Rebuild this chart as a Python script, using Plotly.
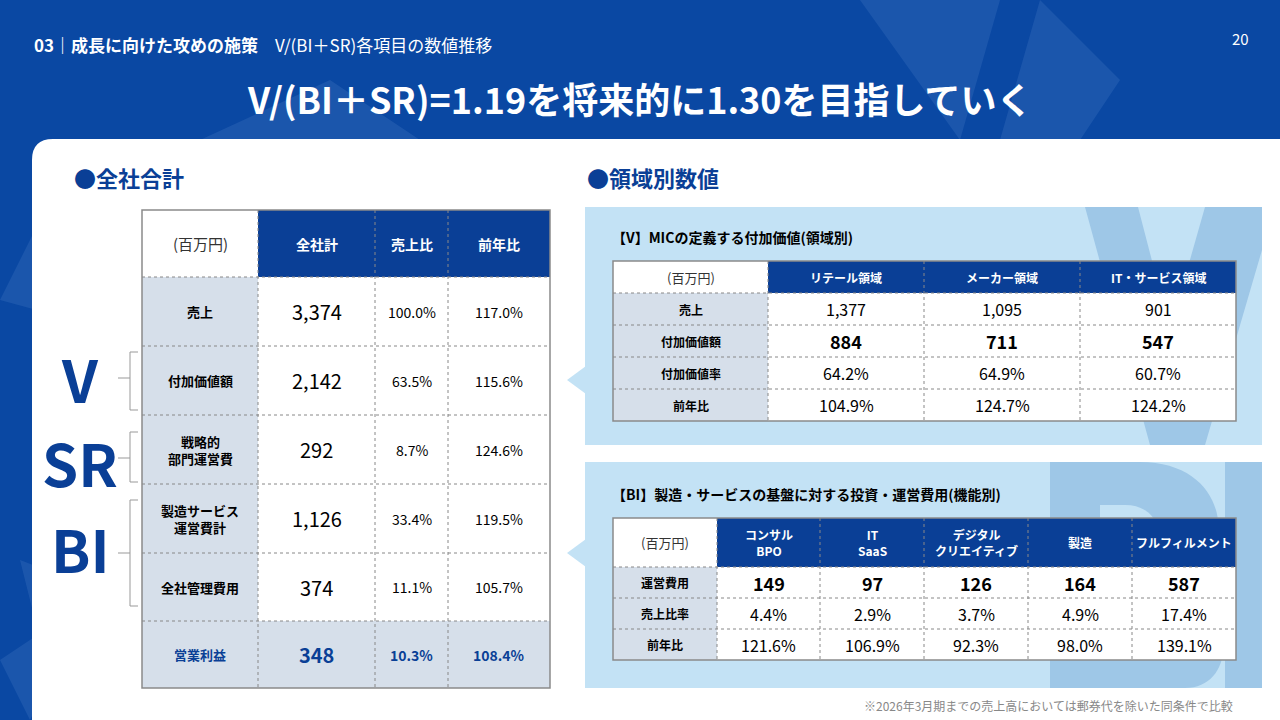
import plotly.graph_objects as go

FONT = "Noto Sans CJK JP"
NAVY = "#0a3f96"
LABEL_BG = "#d6dfea"
PANEL = "#c3e2f5"
MARK = "#9ec7e7"

# ---- data ----
total_cols = ["(百万円)", "全社計", "売上比", "前年比"]
total_rows = ["売上", "付加価値額", "戦略的<br>部門運営費", "製造サービス<br>運営費計", "全社管理費用", "営業利益"]
total_values = ["3,374", "2,142", "292", "1,126", "374", "348"]
total_ratio = ["100.0%", "63.5%", "8.7%", "33.4%", "11.1%", "10.3%"]
total_yoy = ["117.0%", "115.6%", "124.6%", "119.5%", "105.7%", "108.4%"]

v_cols = ["(百万円)", "リテール領域", "メーカー領域", "IT・サービス領域"]
v_rows = ["売上", "付加価値額", "付加価値率", "前年比"]
v_sales = ["1,377", "1,095", "901"]
v_value = ["884", "711", "547"]
v_rate = ["64.2%", "64.9%", "60.7%"]
v_yoy = ["104.9%", "124.7%", "124.2%"]

bi_cols = ["(百万円)", "コンサル<br>BPO", "IT<br>SaaS", "デジタル<br>クリエイティブ", "製造", "フルフィルメント"]
bi_rows = ["運営費用", "売上比率", "前年比"]
bi_cost = ["149", "97", "126", "164", "587"]
bi_ratio = ["4.4%", "2.9%", "3.7%", "4.9%", "17.4%"]
bi_yoy = ["121.6%", "106.9%", "92.3%", "98.0%", "139.1%"]

shapes = []
ann = []


def rect(x0, y0, x1, y1, color, layer="above", line=None):
    shapes.append(dict(type="rect", x0=x0, y0=y0, x1=x1, y1=y1, fillcolor=color, layer=layer,
                       line=line or dict(width=0)))


def text(x, y, s, size=14, color="black", bold=False, anchor="center"):
    ann.append(dict(x=x, y=y, text=f"<b>{s}</b>" if bold else s, showarrow=False, xanchor=anchor,
                    yanchor="middle", font=dict(family=FONT, size=size, color=color)))


def table(xs, ys, cols, rows, body, hsize, lsize, styles, last_row_blue=False):
    # header
    rect(xs[0], ys[0], xs[1], ys[1], "white")
    rect(xs[1], ys[0], xs[-1], ys[1], NAVY)
    for j, c in enumerate(cols):
        cx = (xs[j] + xs[j + 1]) / 2
        cy = (ys[0] + ys[1]) / 2
        if j == 0:
            text(cx, cy, c, hsize + 1, "#333")
        else:
            text(cx, cy, c, hsize, "white", True)
    for i, r in enumerate(rows):
        y0, y1 = ys[i + 1], ys[i + 2]
        cy = (y0 + y1) / 2
        blue = last_row_blue and i == len(rows) - 1
        rect(xs[0], y0, xs[1], y1, LABEL_BG)
        rect(xs[1], y0, xs[-1], y1, LABEL_BG if blue else "white")
        text((xs[0] + xs[1]) / 2, cy, r, lsize, NAVY if blue else "black", True)
        size, bold = styles[i]
        for j, v in enumerate(body[i]):
            cx = (xs[j + 1] + xs[j + 2]) / 2
            s = size[j] if isinstance(size, list) else size
            text(cx, cy, v, s, NAVY if blue else "black", bold or blue)
    dot = dict(color="#888", width=1, dash="dot")
    for x in xs[1:-1]:
        shapes.append(dict(type="line", x0=x, x1=x, y0=ys[0], y1=ys[-1], line=dot, layer="above"))
    for y in ys[1:-1]:
        shapes.append(dict(type="line", x0=xs[0], x1=xs[-1], y0=y, y1=y, line=dot, layer="above"))
    shapes.append(dict(type="rect", x0=xs[0], x1=xs[-1], y0=ys[0], y1=ys[-1],
                       line=dict(color="#8a8a8a", width=1.5), layer="above"))


# ---- background ----
for path in ["M 60 720 L 20 560 L 150 610 Z", "M 0 300 L 50 200 L 110 330 Z",
             "M 860 0 L 1000 0 L 960 140 Z", "M 1040 0 L 1120 80 L 1080 140 L 1000 140 Z",
             "M 200 140 L 330 80 L 420 140 Z", "M 0 660 L 90 600 L 30 720 Z"]:
    shapes.append(dict(type="path", path=path, fillcolor="#2a62b4", line=dict(width=0), layer="below", opacity=0.55))
shapes.append(dict(type="path", layer="below", fillcolor="white", line=dict(width=0),
                   path="M 32 720 L 32 160 Q 32 139 53 139 L 1280 139 L 1280 720 Z"))

# panels with pointers
rect(585, 207, 1262, 445, PANEL, "below")
rect(585, 462, 1262, 688, PANEL, "below")
shapes.append(dict(type="path", path="M 586 366 L 567 380 L 586 394 Z", fillcolor=PANEL, line=dict(width=0), layer="below"))
shapes.append(dict(type="path", path="M 586 539 L 567 553 L 586 567 Z", fillcolor=PANEL, line=dict(width=0), layer="below"))
# watermark letters
shapes.append(dict(type="path", layer="below", fillcolor=MARK, line=dict(width=0),
                   path="M 1085 207 L 1138 207 L 1170 330 L 1205 207 L 1262 207 L 1262 250 L 1205 445 L 1150 445 Z"))
shapes.append(dict(type="path", layer="below", fillcolor=MARK, line=dict(width=0),
                   path="M 1050 462 L 1140 462 C 1235 462 1240 565 1175 590 C 1240 610 1235 688 1185 688 L 1050 688 Z"))
shapes.append(dict(type="path", layer="below", fillcolor=PANEL, line=dict(width=0),
                   path="M 1100 505 L 1125 505 C 1170 505 1170 565 1125 565 L 1100 565 Z"))
rect(1225, 462, 1262, 688, MARK, "below")

# ---- header texts ----
text(32, 44, "<b>03｜成長に向けた攻めの施策</b>　V/(BI＋SR)各項目の数値推移", 17, "white", anchor="left")
text(1240, 38, "20", 15, "white")
text(640, 98, "V/(BI＋SR)=1.19を将来的に1.30を目指していく", 36, "white", True)
text(72, 177, "●全社合計", 22, NAVY, True, "left")
text(585, 177, "●領域別数値", 22, NAVY, True, "left")
text(610, 237, "【V】MICの定義する付加価値(領域別)", 14, "black", True, "left")
text(610, 494, "【BI】製造・サービスの基盤に対する投資・運営費用(機能別)", 14, "black", True, "left")
text(1235, 705, "※2026年3月期までの売上高においては郵券代を除いた同条件で比較", 12, "#888", anchor="right")

# V / SR / BI labels and brackets
text(80, 378, "V", 58, NAVY, True)
text(80, 462, "SR", 58, NAVY, True)
text(80, 548, "BI", 58, NAVY, True)
grey = dict(color="#999", width=1)
for (y0, y1, ym) in [(352, 410, 378), (432, 482, 458), (500, 606, 553)]:
    shapes.append(dict(type="path", path=f"M 138 {y0} L 130 {y0} L 130 {y1} L 138 {y1}", line=grey, layer="above"))
    shapes.append(dict(type="line", x0=118, x1=130, y0=ym, y1=ym, line=grey, layer="above"))

# ---- tables ----
table([142, 258, 375, 448, 550], [210, 277, 346, 415, 484, 553, 621, 688], total_cols, total_rows,
      [[total_values[i], total_ratio[i], total_yoy[i]] for i in range(6)], 14, 13,
      [([20, 14, 14], False)] * 6, last_row_blue=True)
table([613, 768, 924, 1080, 1236], [261, 293, 325, 357, 389, 421], v_cols, v_rows,
      [v_sales, v_value, v_rate, v_yoy], 12, 12,
      [(16, False), (18, True), (16, False), (16, False)])
table([613, 717, 820, 924, 1028, 1132, 1236], [518, 567, 598, 629, 660], bi_cols, bi_rows,
      [bi_cost, bi_ratio, bi_yoy], 12, 12,
      [(18, True), (16, False), (16, False)])

fig = go.Figure()
fig.update_layout(width=1280, height=720, margin=dict(l=0, r=0, t=0, b=0),
                  paper_bgcolor="#0a48a3", plot_bgcolor="rgba(0,0,0,0)", showlegend=False,
                  xaxis=dict(range=[0, 1280], visible=False, fixedrange=True),
                  yaxis=dict(range=[720, 0], visible=False, fixedrange=True),
                  shapes=shapes, annotations=ann)
fig.write_html("out.html", config={"displayModeBar": False},
               post_script="document.body.style.margin='0';document.body.style.overflow='hidden';")
